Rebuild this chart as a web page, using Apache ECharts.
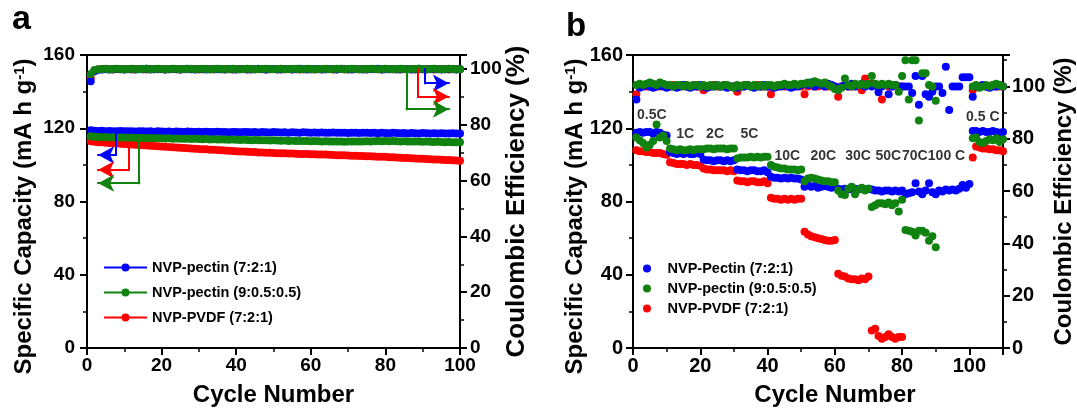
<!DOCTYPE html>
<html>
<head>
<meta charset="utf-8">
<script src="https://cdn.jsdelivr.net/npm/echarts@6/dist/echarts.min.js"></script>
<style>
  html, body { margin: 0; padding: 0; background: #fff; }
  #chart { width: 1077px; height: 409px; }
</style>
</head>
<body>
<div id="chart"></div>
<script>
// ---------- (a) long cycling: specific capacity (mA h g-1) per cycle ----------
const capBlueA = [
  118.9, 118.6, 118.5, 118.6, 118.4, 118.5, 118.4, 118.3, 118.5, 118.4,
  118.3, 118.4, 118.2, 118.3, 118.4, 118.2, 118.3, 118.1, 118.3, 118.2,
  118.1, 118.2, 118.0, 118.2, 118.1, 118.0, 118.2, 118.1, 117.9, 118.1,
  118.0, 118.1, 117.9, 118.0, 118.1, 117.9, 118.0, 117.8, 118.0, 117.9,
  117.8, 118.0, 117.9, 117.8, 117.9, 117.7, 117.9, 117.8, 117.7, 117.9,
  117.8, 117.7, 117.8, 117.6, 117.8, 117.7, 117.6, 117.8, 117.7, 117.6,
  117.7, 117.5, 117.7, 117.6, 117.5, 117.7, 117.6, 117.5, 117.6, 117.4,
  117.6, 117.5, 117.4, 117.6, 117.5, 117.4, 117.5, 117.3, 117.5, 117.4,
  117.3, 117.5, 117.4, 117.3, 117.4, 117.2, 117.4, 117.3, 117.2, 117.4,
  117.3, 117.2, 117.3, 117.1, 117.3, 117.2, 117.1, 117.3, 117.2, 117.1
];
const capGreenA = [
  115.6, 115.3, 115.2, 115.1, 115.2, 115.0, 115.1, 114.9, 115.0, 114.9,
  114.8, 114.9, 114.7, 114.8, 114.7, 114.6, 114.7, 114.5, 114.6, 114.5,
  114.4, 114.5, 114.3, 114.4, 114.3, 114.2, 114.3, 114.1, 114.2, 114.1,
  114.0, 114.1, 113.9, 114.0, 113.9, 113.8, 113.9, 113.7, 113.8, 113.7,
  113.6, 113.7, 113.6, 113.5, 113.6, 113.4, 113.5, 113.4, 113.3, 113.4,
  113.3, 113.2, 113.3, 113.1, 113.2, 113.1, 113.0, 113.1, 113.0, 112.9,
  113.0, 112.9, 112.8, 112.9, 112.8, 112.7, 112.8, 112.7, 112.6, 112.8,
  112.7, 112.8, 112.7, 112.8, 112.9, 112.8, 112.9, 113.0, 112.9, 113.0,
  112.9, 113.0, 112.9, 112.8, 112.9, 112.8, 112.7, 112.8, 112.7, 112.6,
  112.7, 112.6, 112.5, 112.6, 112.5, 112.4, 112.5, 112.4, 112.3, 112.4
];
const capRedA = [
  112.9, 112.6, 112.4, 112.3, 112.1, 112.0, 111.8, 111.7, 111.5, 111.4,
  111.3, 111.1, 111.0, 110.9, 110.7, 110.6, 110.5, 110.3, 110.2, 110.0,
  109.9, 109.8, 109.6, 109.5, 109.4, 109.2, 109.1, 109.0, 108.8, 108.7,
  108.6, 108.5, 108.3, 108.2, 108.1, 108.0, 107.8, 107.7, 107.6, 107.5,
  107.3, 107.3, 107.1, 107.0, 107.0, 106.8, 106.8, 106.6, 106.6, 106.5,
  106.4, 106.4, 106.3, 106.2, 106.2, 106.1, 106.0, 106.0, 105.9, 105.8,
  105.8, 105.7, 105.6, 105.6, 105.5, 105.4, 105.3, 105.3, 105.2, 105.1,
  105.0, 105.0, 104.9, 104.8, 104.7, 104.7, 104.6, 104.5, 104.4, 104.4,
  104.2, 104.1, 104.0, 103.9, 103.8, 103.7, 103.6, 103.5, 103.4, 103.3,
  103.2, 103.1, 103.0, 102.9, 102.8, 102.7, 102.6, 102.5, 102.4, 102.3
];
// (a) coulombic efficiency (%) per cycle
const ceBlueA = [
  95.6, 99.2, 99.7, 99.8, 99.9, 99.8, 99.9, 100.0, 99.9, 99.8,
  99.9, 100.0, 99.8, 99.9, 99.9, 100.1, 99.8, 99.9, 100.0, 99.9,
  99.8, 99.9, 100.0, 99.9, 99.8, 99.9, 100.1, 99.9, 99.8, 100.0,
  99.9, 99.8, 99.9, 100.0, 99.9, 99.9, 99.8, 100.0, 99.9, 99.8,
  99.9, 100.0, 99.9, 99.8, 99.9, 100.1, 99.9, 99.8, 99.9, 100.0,
  99.8, 99.9, 99.9, 100.0, 99.8, 99.9, 100.1, 99.9, 99.8, 99.9,
  100.0, 99.9, 99.8, 99.9, 100.0, 99.9, 99.8, 100.1, 99.9, 99.9,
  99.8, 100.0, 99.9, 99.8, 99.9, 100.0, 99.9, 100.1, 99.8, 99.9,
  99.9, 100.0, 99.8, 99.9, 100.0, 99.9, 99.8, 99.9, 100.1, 99.9,
  99.8, 99.9, 100.0, 99.9, 99.8, 99.9, 100.0, 99.9, 99.8, 99.9
];
const ceGreenA = [
  98.2, 99.6, 99.9, 100.0, 100.1, 99.9, 100.0, 100.1, 100.0, 99.9,
  100.0, 100.1, 99.9, 100.0, 100.0, 100.1, 99.9, 100.0, 100.1, 100.0,
  99.9, 100.0, 100.1, 100.0, 99.9, 100.0, 100.0, 100.1, 99.9, 100.0,
  100.1, 100.0, 99.9, 100.0, 100.1, 100.0, 100.0, 99.9, 100.1, 100.0,
  99.9, 100.0, 100.1, 100.0, 99.9, 100.0, 100.0, 100.1, 100.0, 99.9,
  100.0, 100.1, 99.9, 100.0, 100.0, 100.1, 99.9, 100.0, 100.1, 100.0,
  99.9, 100.0, 100.0, 100.1, 99.9, 100.0, 100.1, 100.0, 99.9, 100.0,
  100.1, 100.0, 99.9, 100.0, 100.0, 100.1, 100.0, 99.9, 100.0, 100.1,
  100.0, 99.9, 100.0, 100.1, 100.0, 99.9, 100.0, 100.0, 100.1, 100.0,
  99.9, 100.0, 100.1, 100.0, 99.9, 100.0, 100.1, 100.0, 100.0, 99.9
];
const ceRedA = [
  96.8, 99.4, 99.8, 99.9, 100.0, 99.9, 99.8, 100.0, 99.9, 99.9,
  100.0, 99.8, 99.9, 100.0, 99.9, 99.8, 100.0, 99.9, 99.9, 100.0,
  99.8, 99.9, 100.0, 99.9, 99.8, 100.0, 99.9, 99.9, 100.0, 99.8,
  99.9, 100.0, 99.9, 99.8, 100.0, 99.9, 99.9, 100.0, 99.8, 99.9,
  100.0, 99.9, 99.8, 100.0, 99.9, 99.9, 100.0, 99.8, 99.9, 100.0,
  99.9, 99.8, 100.0, 99.9, 99.9, 100.0, 99.8, 99.9, 100.0, 99.9,
  99.8, 100.0, 99.9, 99.9, 100.0, 99.8, 99.9, 100.0, 99.9, 99.8,
  100.0, 99.9, 99.9, 100.0, 99.8, 99.9, 100.0, 99.9, 99.8, 100.0,
  99.9, 99.9, 100.0, 99.8, 99.9, 100.0, 99.9, 99.8, 100.0, 99.9,
  99.9, 100.0, 99.8, 99.9, 100.0, 99.9, 99.8, 100.0, 99.9, 99.9
];

// ---------- (b) rate capability: capacity (mA h g-1), null = no reading ----------
const capBlueB = [
  117.5, 118, 117.5, 118, 118, 117, 118, 117.5, 116.5, 116,
  107, 106.5, 106, 106.5, 106, 106.5, 106, 106, 106.5, 106,
  103, 102.5, 102.5, 102, 102.5, 102.5, 102, 102.5, 102, 102.5,
  97.5, 97, 97, 96.5, 97, 97, 96.5, 96.5, 97, 96,
  93.5, 93, 93, 92.5, 93, 92.5, 93, 92.5, 92.5, 92,
  88, 89, 88, 88.5, 87.5, 88, 88.5, 88, 87.5, 88,
  87, 86.5, 87, 86.5, 87, 87, 86.5, 87, 86.5, 87,
  86.5, 86, 86, 85.5, 86, 86, 85.5, 86, 85.5, 86,
  84, 84.5, 85, 90, 85.5, 84, 86, 90, 85, 84,
  86, 85.5, 86.5, 86, 86.5, 86, 87, 89, 87.5, 89.5,
  118.5, 118.5, 118, 118.5, 118, 118, 118.5, 118, 117.5, 118
];
const capGreenB = [
  115, 113.5, 112, 109.5, 111, 113, 122, 115, 116, 113,
  109, 108.5, 108, 108.5, 108, 108, 108.5, 108, 108.5, 108.5,
  108.5, 109, 109, 108.5, 109, 109, 109, 108.5, 109, 109,
  103.5, 104, 104, 104, 104.5, 104, 104.5, 104, 104.5, 104.5,
  100, 99, 98.5, 98, 98, 97.5, 97.5, 97.5, 97, 97.5,
  91, 92.5, 93, 92.5, 92, 91.5, 91, 91, 90.5, 90.5,
  86, 84, 83.5, 87, 88, 84, 86.5, 87.5, 86, 87,
  77, 78, 79, 79, 78.5, 79.5, 78, 79, 74.5, 81,
  64.5, 64, 63.5, 61.5, 64, 64, 63, 58.5, 61, 55,
  null, null, null, null, null, null, null, null, null, null,
  114.5, 115, 112.5, 112, 113, 114, 113.5, 114.5, 112.5, 114
];
const capRedB = [
  108, 107.5, 107.5, 107, 107, 106.5, 106.5, 106.5, 106, 105.5,
  101.5, 101, 100.5, 100.5, 100.5, 100, 100.5, 100, 100, 99.5,
  98, 97.5, 97.5, 97, 97, 97, 97, 96.5, 97, 96.5,
  91.5, 91, 91, 90.5, 91, 91, 90.5, 90.5, 91, 90,
  82, 81.5, 81.5, 81, 81.5, 81, 81.5, 81, 81.5, 81.5,
  63.5, 62, 61, 60.5, 60, 59.5, 59, 58.5, 58.5, 59,
  40.5, 39.5, 39, 38, 37.5, 37.5, 37, 38, 37.5, 39,
  9.5, 10.5, 6.5, 5, 6, 7.5, 6, 5, 6, 6,
  null, null, null, null, null, null, null, null, null, null,
  null, null, null, null, null, null, null, null, null, null,
  104, 110, 109.5, 109, 109, 108.5, 108.5, 108, 108, 107.5
];
// (b) coulombic efficiency (%)
const ceBlueB = [
  95, 99.5, 100, 100.5, 100, 99.5, 100, 100.5, 100, 99.5,
  100, 100, 99.5, 100, 100.5, 100, 99.5, 100, 100, 100.5,
  100, 99.5, 100, 100, 100.5, 100, 100, 99.5, 100, 100,
  99.5, 100, 100, 100.5, 100, 99.5, 100, 100, 100.5, 100,
  100, 99.5, 100, 100, 100.5, 100, 99.5, 100, 100, 100.5,
  101, 100.5, 101.5, 100, 101, 100.5, 100, 101, 100.5, 100,
  99.5, 100, 100.5, 100, 101, 100, 100.5, 101, 100, 100.5,
  100, 100.5, 97.8, 100, 100.5, 97, 100, 100.5, 100, 100,
  100, 100, 97.5, 104, 93, 104, 97, 96, 98, 100,
  100, 97.5, 107.5, 91, 100, 100, 100, 103.5, 103.5, 103.5,
  96, 100, 100, 100.5, 100, 99.5, 100, 100, 100.5, 100
];
const ceGreenB = [
  100.5, 101, 100.5, 101, 101.5, 101, 100.5, 101.5, 101, 100.5,
  100.5, 100, 100.5, 100.5, 100, 100.5, 100, 100.5, 100.5, 100,
  100.5, 100, 100.5, 100, 100.5, 100, 100.5, 100.5, 100, 99.5,
  100.5, 100, 100.5, 100.5, 100, 100.5, 100, 100.5, 100, 100.5,
  100.5, 100, 100.5, 100.5, 101, 100.5, 100.5, 101, 100.5, 101,
  101, 101.5, 101, 102, 101.5, 101, 101.5, 100.5, 100, 99,
  98.5, 99.5, 103, 100.5, 100, 101, 100.5, 101, 100.5, 101,
  104, 101, 100.5, 101, 100.5, 101, 100.5, 100.5, 98, 104,
  110, 95, 110, 110, 87, 105, 105, 100.5, 100, 94.5,
  null, null, null, null, null, null, null, null, null, null,
  100, 100.5, 99.5, 100, 100.5, 100, 100.5, 101, 100.5, 100
];
const ceRedB = [
  97, 100, 100.5, 100, 100, 100.5, 100, 100, 100.5, 100,
  100, 100.5, 100, 100, 100.5, 100, 100, 100.5, 100, 100,
  98.5, 100, 100, 100.5, 100, 100, 100.5, 100, 100, 100,
  98, 100, 100, 100.5, 100, 100, 100.5, 100, 100, 100,
  97, 100, 100, 100.5, 100, 100.5, 100, 100, 100.5, 100,
  97, 100, 100.5, 100, 100, 100.5, 100, 100, 100.5, 100,
  96, 100, 100.5, 100, 100, 100.5, 100, 98.5, 103, 100.5,
  101, 100.5, 100, 95, 100.5, 100, 100, 100.5, 100, 100,
  null, null, null, null, null, null, null, null, null, null,
  null, null, null, null, null, null, null, null, null, null,
  98.5, 100, 100, 100.5, 100, 100, 100.5, 100, 100, 100
];

// C-rate annotations for (b): text, cycle, capacity
const rateNames = ['0.5C', '1C', '2C', '5C', '10C', '20C', '30C', '50C', '70C', '100 C', '0.5 C'];
const rateCycle = [5.6, 15.5, 24.4, 34.6, 45.9, 56.6, 66.9, 75.9, 83.8, 93.2, 104];
const rateCap   = [127.3, 116.9, 116.9, 116.9, 104.9, 104.9, 104.9, 104.5, 104.5, 104.5, 125.8];

// legend names
const namesA = ['NVP-pectin (7:2:1)', 'NVP-pectin (9:0.5:0.5)', 'NVP-PVDF (7:2:1)'];
const namesB = ['NVP-Pectin (7:2:1)', 'NVP-pectin (9:0.5:0.5)', 'NVP-PVDF (7:2:1)'];

const FONT = '"Liberation Sans", Arial, Helvetica, sans-serif';
const BLUE = '#0000ff', GREEN = '#0f820f', RED = '#ff0000';

// L-shaped pointers in (a) telling which axis each curve belongs to (data units)
const pointersA = [
  { axis: 0, color: BLUE,  x: 7.8,  from: 118,   to: 105.4, tip: 3.0 },
  { axis: 0, color: RED,   x: 11.1, from: 111,   to: 97.3,  tip: 3.0 },
  { axis: 0, color: GREEN, x: 14,   from: 114.7, to: 90,    tip: 3.0 },
  { axis: 1, color: BLUE,  x: 90.6, from: 100,   to: 94.9,  tip: 97.0 },
  { axis: 1, color: RED,   x: 88.8, from: 100,   to: 90.1,  tip: 97.0 },
  { axis: 1, color: GREEN, x: 85.7, from: 100,   to: 85.6,  tip: 97.0 }
];

function pts(arr) {
  const out = [];
  arr.forEach((v, i) => { if (v !== null) out.push([i + 1, v]); });
  return out;
}

const bold = (size) => ({ fontFamily: FONT, fontSize: size, fontWeight: 'bold', color: '#000' });

function xAxisCfg(grid, max, labelSize, namePad) {
  return {
    type: 'value', gridIndex: grid, min: 0, max: max, interval: 20,
    name: 'Cycle Number', nameLocation: 'middle', nameGap: 35, nameMoveOverlap: false,
    nameTextStyle: Object.assign(bold(24), { padding: namePad }),
    axisLine: { show: true, onZero: false, lineStyle: { color: '#000', width: 2 } },
    axisTick: { show: true, inside: false, length: 7, lineStyle: { color: '#000', width: 2 } },
    minorTick: { show: true, splitNumber: 2, length: 4, lineStyle: { color: '#000', width: 1.5 } },
    axisLabel: Object.assign(bold(labelSize), { margin: 8, showMaxLabel: max === 100 }),
    splitLine: { show: false }, minorSplitLine: { show: false }
  };
}

// pad: padding of the whole title block, used to slide it along the axis
function yAxisCfg(grid, pos, max, interval, name, rich, pad, gap, margin, labelSize) {
  return {
    type: 'value', gridIndex: grid, position: pos, min: 0, max: max, interval: interval,
    name: name, nameLocation: 'middle', nameRotate: 90, nameGap: gap, nameMoveOverlap: false,
    nameTextStyle: { rich: rich, padding: pad },
    axisLine: { show: true, onZero: false, lineStyle: { color: '#000', width: 2 } },
    axisTick: { show: true, inside: false, length: 7, lineStyle: { color: '#000', width: 2 } },
    minorTick: { show: true, splitNumber: 2, length: 4, lineStyle: { color: '#000', width: 1.5 } },
    axisLabel: Object.assign(bold(labelSize), { margin: margin, showMaxLabel: max === 160 }),
    splitLine: { show: false }, minorSplitLine: { show: false }
  };
}

function capRich(size) {
  return {
    t: bold(size),
    s: Object.assign(bold(Math.round(size * 0.62)), { verticalAlign: 'top' })
  };
}
function ceRich(size) {
  return { t: bold(size) };
}

function lineSeries(name, xi, yi, arr, color) {
  return {
    name: name, type: 'line', xAxisIndex: xi, yAxisIndex: yi, data: pts(arr), z: 2,
    symbol: 'circle', symbolSize: 8, showSymbol: true, showAllSymbol: true,
    lineStyle: { color: color, width: 2 }, itemStyle: { color: color },
    emphasis: { disabled: true }, animation: false
  };
}
function dotSeries(name, xi, yi, arr, color) {
  return {
    name: name, type: 'scatter', xAxisIndex: xi, yAxisIndex: yi, data: pts(arr), z: 2,
    symbol: 'circle', symbolSize: 8, itemStyle: { color: color, opacity: 1 },
    emphasis: { disabled: true }, animation: false
  };
}
function pointerSeries(p) {
  return {
    type: 'line', xAxisIndex: 0, yAxisIndex: p.axis, data: [], z: 1, silent: true, animation: false,
    markLine: {
      silent: true, animation: false, symbol: ['none', 'none'], label: { show: false },
      emphasis: { disabled: true },
      lineStyle: { color: p.color, width: 2, type: 'solid', cap: 'square' },
      data: [
        [{ coord: [p.x, p.from] }, { coord: [p.x, p.to] }],
        [{ coord: [p.x, p.to] }, { coord: [p.tip, p.to], symbol: 'arrow', symbolSize: [13, 16] }]
      ]
    }
  };
}

const series = [
  // (a) capacity, then efficiency; green drawn last so it sits on top
  lineSeries(namesA[2], 0, 0, capRedA, RED),
  lineSeries(namesA[0], 0, 0, capBlueA, BLUE),
  lineSeries(namesA[1], 0, 0, capGreenA, GREEN),
  lineSeries(namesA[2], 0, 1, ceRedA, RED),
  lineSeries(namesA[0], 0, 1, ceBlueA, BLUE),
  lineSeries(namesA[1], 0, 1, ceGreenA, GREEN),
  // (b)
  dotSeries(namesB[2], 1, 2, capRedB, RED),
  dotSeries(namesB[0], 1, 2, capBlueB, BLUE),
  dotSeries(namesB[1], 1, 2, capGreenB, GREEN),
  dotSeries(namesB[2], 1, 3, ceRedB, RED),
  dotSeries(namesB[0], 1, 3, ceBlueB, BLUE),
  dotSeries(namesB[1], 1, 3, ceGreenB, GREEN),
  {
    type: 'scatter', xAxisIndex: 1, yAxisIndex: 2, symbolSize: 0, silent: true, animation: false, z: 5,
    data: rateNames.map((n, i) => ({ name: n, value: [rateCycle[i], rateCap[i]] })),
    label: Object.assign(bold(14), { show: true, position: 'inside', formatter: '{b}' })
  }
].concat(pointersA.map(pointerSeries));

const capName = '{t|Specific Capacity (mA h g}{s|-1}{t|)}';
const ceName = '{t|Coulombic Efficiency (%)}';

const option = {
  backgroundColor: '#fff',
  animation: false,
  title: [
    { text: 'a', left: 12, top: 3, padding: 0, textStyle: bold(34) },
    { text: 'b', left: 566, top: 10, padding: 0, textStyle: bold(33) }
  ],
  grid: [
    { left: 87, right: 617, top: 55, bottom: 61, containLabel: false, outerBoundsMode: 'none',
      show: true, borderColor: '#000', borderWidth: 2, backgroundColor: 'transparent' },
    { left: 633, right: 74, top: 55, bottom: 61, containLabel: false, outerBoundsMode: 'none',
      show: true, borderColor: '#000', borderWidth: 2, backgroundColor: 'transparent' }
  ],
  xAxis: [
    xAxisCfg(0, 100, 19, [0, 0, 0, 0]),
    xAxisCfg(1, 110, 20, [0, 0, 0, 34])
  ],
  yAxis: [
    yAxisCfg(0, 'left', 160, 40, capName, capRich(24), [0, 30, 0, 0], 51, 12, 19),
    yAxisCfg(0, 'right', 105, 20, ceName, ceRich(26), 0, 44, 10, 19),
    yAxisCfg(1, 'left', 160, 40, capName, capRich(24), [0, 30, 0, 0], 46, 10, 20),
    yAxisCfg(1, 'right', 112, 20, ceName, ceRich(24), 0, 49, 9, 20)
  ],
  legend: [
    {
      data: namesA, orient: 'vertical', left: 103, top: 260, padding: 0,
      itemWidth: 43, itemHeight: 10, itemGap: 10, selectedMode: false,
      textStyle: Object.assign(bold(14.5), { lineHeight: 14 })
    },
    {
      data: namesB.map(n => ({ name: n, icon: 'circle' })), orient: 'vertical', left: 643, top: 261, padding: 0,
      itemWidth: 31, itemHeight: 8, itemGap: 5, selectedMode: false,
      textStyle: Object.assign(bold(14.5), { lineHeight: 14 })
    }
  ],
  series: series
};

const chart = echarts.init(document.getElementById('chart'), null, { renderer: 'canvas' });
chart.setOption(option);
</script>
</body>
</html>
